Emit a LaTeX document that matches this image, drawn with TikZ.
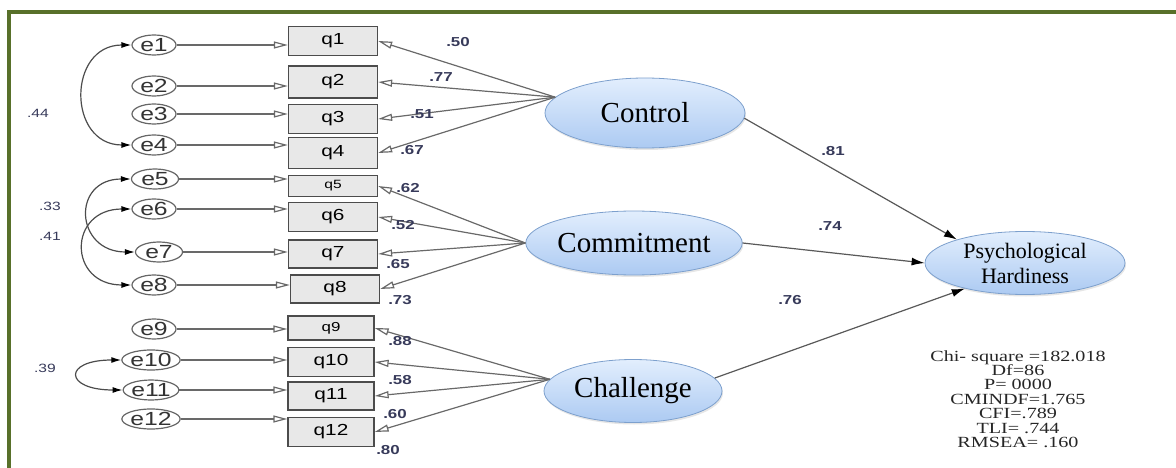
\documentclass[tikz,border=0pt]{standalone}
\usepackage{fontspec}
\setmainfont{Liberation Serif}
\newfontfamily\amosfont[FakeStretch=1.3]{Liberation Sans}
\newfontfamily\statfont[FakeStretch=1.3]{Liberation Serif}
\usetikzlibrary{arrows.meta,shapes.geometric,shadows}
\definecolor{framegreen}{RGB}{88,112,42}
\definecolor{latfill}{RGB}{226,238,253}
\definecolor{latfilldk}{RGB}{172,202,242}
\definecolor{latline}{RGB}{125,160,205}
\definecolor{numcol}{RGB}{55,58,90}
\definecolor{pathgray}{RGB}{105,105,105}

\begin{document}
\begin{tikzpicture}[x=1pt,y=-1pt,
    err/.style={draw=black!60, ellipse, line width=1.2pt, minimum width=44pt, minimum height=20pt, inner sep=0pt, font=\amosfont\fontsize{19}{19}\selectfont, text=black!80},
    item/.style={draw=black!70, rectangle, line width=1.3pt, fill=black!9, minimum width=89pt, minimum height=29pt, inner sep=0pt, font=\amosfont\fontsize{16}{16}\selectfont},
    latent/.style={ellipse, draw=latline, line width=0.8pt, top color=latfill, bottom color=latfilldk, minimum width=178pt, minimum height=64pt, inner sep=0pt, align=center, drop shadow={shadow xshift=1pt,shadow yshift=-2pt,opacity=.2}},
    coef/.style={font=\amosfont\bfseries\fontsize{13}{13}\selectfont, text=numcol, inner sep=0pt},
    load/.style={draw=pathgray, line width=1.2pt, -{Triangle[open,length=14pt,width=7pt]}},
    cov/.style={draw=black!70, line width=1.2pt, {Latex[length=10pt,width=6pt,color=black]}-{Latex[length=10pt,width=6pt,color=black]}},
    arr/.style={draw=black!65, line width=1.2pt, -{Latex[length=13pt,width=8pt,color=black]}}
]
\useasboundingbox (0,0) rectangle (1176,468);
\draw[framegreen, line width=4pt] (9,475) -- (9,12) -- (1185,12);

\node[err] (e1) at (154,45) {e1};
\node[err] (e2) at (154,86) {e2};
\node[err] (e3) at (154,114) {e3};
\node[err] (e4) at (154,145) {e4};
\node[err, minimum width=47pt] (e5) at (155,179) {e5};
\node[err] (e6) at (154,209) {e6};
\node[err, minimum width=47pt] (e7) at (159,252) {e7};
\node[err] (e8) at (154,285) {e8};
\node[err] (e9) at (154,329) {e9};
\node[err, minimum width=48pt] (e10) at (151,360) {e10};
\node[err, minimum width=48pt] (e11) at (151,390) {e11};
\node[err, minimum width=48pt] (e12) at (151,419) {e12};

\node[item] (q1) at (333,41) {q1};
\node[item, minimum height=32pt] (q2) at (333,82) {q2};
\node[item] (q3) at (333,119) {q3};
\node[item, minimum height=31pt] (q4) at (333,153) {q4};
\node[item, minimum height=21pt, font=\amosfont\fontsize{12}{12}\selectfont] (q5) at (333,186) {q5};
\node[item] (q6) at (333,217) {q6};
\node[item, minimum height=28pt] (q7) at (333,254) {q7};
\node[item, minimum height=28pt] (q8) at (335,289) {q8};
\node[item, minimum width=86pt, minimum height=24pt, font=\amosfont\fontsize{13}{13}\selectfont] (q9) at (331,328) {q9};
\node[item, minimum width=86pt] (q10) at (331,362) {q10};
\node[item, minimum width=86pt, minimum height=28pt] (q11) at (331,396) {q11};
\node[item, minimum width=86pt] (q12) at (331,432) {q12};

\node[latent, minimum width=200pt, minimum height=70pt, font=\fontsize{29}{31}\selectfont] (ctrl) at (645,113) {Control};
\node[latent, font=\fontsize{29}{31}\selectfont] (commit) at (634,243) {Commitment};
\node[latent, minimum height=63pt, font=\fontsize{29}{31}\selectfont] (chal) at (633,391) {Challenge};
\node[latent, minimum width=200pt, minimum height=63pt, font=\fontsize{22}{25}\selectfont] (ph) at (1025,263) {Psychological\\Hardiness};

\draw[load] (e1.east) -- (e1.east -| q1.west);
\draw[load] (e2.east) -- (e2.east -| q2.west);
\draw[load] (e3.east) -- (e3.east -| q3.west);
\draw[load] (e4.east) -- (e4.east -| q4.west);
\draw[load] (e5.east) -- (e5.east -| q5.west);
\draw[load] (e6.east) -- (e6.east -| q6.west);
\draw[load] (e7.east) -- (e7.east -| q7.west);
\draw[load] (e8.east) -- (e8.east -| q8.west);
\draw[load] (e9.east) -- (e9.east -| q9.west);
\draw[load] (e10.east) -- (e10.east -| q10.west);
\draw[load] (e11.east) -- (e11.east -| q11.west);
\draw[load] (e12.east) -- (e12.east -| q12.west);

\draw[load] (ctrl.170) -- (q1.east);
\draw[load] (ctrl.170) -- (q2.east);
\draw[load] (ctrl.170) -- (q3.east);
\draw[load] (ctrl.170) -- (q4.east);
\draw[load] (commit.west) -- (q5.east);
\draw[load] (commit.west) -- (q6.east);
\draw[load] (commit.west) -- (q7.east);
\draw[load] (commit.west) -- (q8.east);
\draw[load] (chal.172) -- (q9.east);
\draw[load] (chal.172) -- (q10.east);
\draw[load] (chal.172) -- (q11.east);
\draw[load] (chal.172) -- (q12.east);

\draw[cov] (e1.west) to[out=180,in=180,looseness=1.65] (e4.west);
\draw[cov] (e5.west) to[out=180,in=180,looseness=2.1] (e7.west);
\draw[cov] (e6.west) to[out=180,in=180,looseness=2.15] (e8.west);
\draw[cov] (e10.west) to[out=180,in=180,looseness=5] (e11.west);

\draw[arr] (ctrl.-3) -- (ph.161);
\draw[arr] (commit.east) -- (ph.west);
\draw[arr] (chal.9) -- (ph.203);

\node[coef] (l1) at (458,42) {.50};
\node[coef] (l2) at (441,77) {.77};
\node[coef] (l3) at (422,114) {.51};
\node[coef] (l4) at (412,150) {.67};
\node[coef] (l5) at (408,188) {.62};
\node[coef] (l6) at (403,225) {.52};
\node[coef] (l7) at (398,264) {.65};
\node[coef] (l8) at (400,300) {.73};
\node[coef] (l9) at (400,341) {.88};
\node[coef] (l10) at (400,380) {.58};
\node[coef] (l11) at (395,414) {.60};
\node[coef] (l12) at (388,450) {.80};

\node[coef, font=\amosfont\fontsize{12}{12}\selectfont] (c14) at (38,113) {.44};
\node[coef, font=\amosfont\fontsize{12}{12}\selectfont] (c57) at (50,206) {.33};
\node[coef, font=\amosfont\fontsize{12}{12}\selectfont] (c68) at (50,236) {.41};
\node[coef, font=\amosfont\fontsize{12}{12}\selectfont] (c1011) at (45,368) {.39};

\node[coef] (s1) at (833,151) {.81};
\node[coef] (s2) at (830,226) {.74};
\node[coef] (s3) at (790,300) {.76};

\node[font=\statfont\fontsize{15.5}{14.4}\selectfont, align=center, text=black!85, inner sep=0pt] (fit) at (1018,399) {Chi- square =182.018\\Df=86\\P= 0000\\CMINDF=1.765\\CFI=.789\\TLI= .744\\RMSEA= .160};
\end{tikzpicture}
\end{document}
